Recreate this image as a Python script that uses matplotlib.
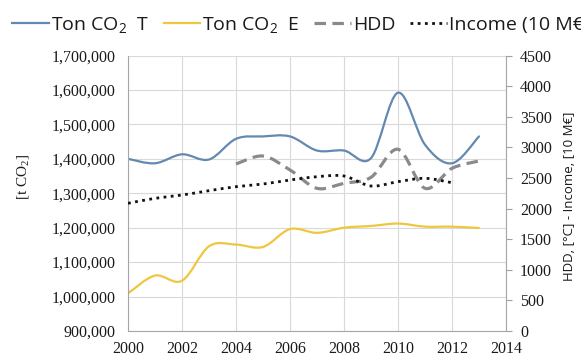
import numpy as np
import matplotlib
matplotlib.use("Agg")
import matplotlib.pyplot as plt
from matplotlib.path import Path
from matplotlib.patches import PathPatch
from matplotlib.lines import Line2D
from matplotlib.ticker import FuncFormatter

# Yearly series
years_t = list(range(2000, 2014))
ton_co2_t = [1400000, 1387000, 1413000, 1398000, 1458000, 1465000, 1465000,
             1424000, 1424000, 1402000, 1592000, 1441000, 1387000, 1465000]
ton_co2_e = [1009000, 1061000, 1046000, 1146000, 1151000, 1144000, 1196000,
             1185000, 1200000, 1205000, 1212000, 1203000, 1203000, 1199000]
years_hdd = list(range(2004, 2014))
hdd = [2728, 2858, 2630, 2331, 2412, 2510, 2968, 2331, 2657, 2777]
years_inc = list(range(2000, 2013))
income = [2086, 2167, 2221, 2292, 2357, 2401, 2466, 2520, 2532, 2368, 2439,
          2494, 2422]

x_ticks = list(range(2000, 2015, 2))
left_ticks = list(range(900000, 1700001, 100000))
right_ticks = list(range(0, 4501, 500))

label_t = r"Ton $\mathregular{CO_2}$  T"
label_e = r"Ton $\mathregular{CO_2}$  E"
label_hdd = "HDD"
label_inc = "Income (10 M€)"

C_T = "#6489b0"
C_E = "#efc73f"
C_HDD = "#8a8a8a"
C_INC = "#111111"
TXT = "#1a1a1a"

SERIF = "Liberation Serif"
plt.rcParams["font.family"] = [SERIF, "DejaVu Serif"]


def smooth_path(xs, ys):
    """Cubic Bezier path through the points (Catmull-Rom style smoothing)."""
    p = np.column_stack([xs, ys]).astype(float)
    n = len(p)
    verts = [p[0]]
    codes = [Path.MOVETO]
    for i in range(n - 1):
        p0 = p[i - 1] if i > 0 else p[i]
        p1 = p[i]
        p2 = p[i + 1]
        p3 = p[i + 2] if i + 2 < n else p[i + 1]
        c1 = p1 + (p2 - p0) / 6.0
        c2 = p2 - (p3 - p1) / 6.0
        verts += [c1, c2, p2]
        codes += [Path.CURVE4] * 3
    return Path(verts, codes)


def draw_curve(ax, xs, ys, **kw):
    patch = PathPatch(smooth_path(xs, ys), fill=False, transform=ax.transData,
                      **kw)
    ax.add_patch(patch)
    return patch


fig = plt.figure(figsize=(5.81, 3.58), dpi=100)
ax = fig.add_axes([128 / 581, 1 - 331 / 358, 378 / 581, 275.5 / 358])
ax2 = ax.twinx()

ax.set_xlim(2000, 2014)
ax.set_ylim(900000, 1700000)
ax2.set_ylim(0, 4500)

ax.set_xticks(x_ticks)
ax.set_yticks(left_ticks)
ax2.set_yticks(right_ticks)
ax.yaxis.set_major_formatter(FuncFormatter(lambda v, _: f"{int(v):,}"))

ax.grid(True, color="#d9d9d9", linewidth=0.8)
ax.set_axisbelow(True)

ax.tick_params(axis="both", length=0, labelsize=11.5, labelcolor=TXT,
               labelfontfamily=SERIF)
ax.tick_params(axis="y", pad=9)
ax.tick_params(axis="x", pad=7)
ax2.tick_params(axis="y", length=4, width=0.8, color="#a0a0a0", pad=6,
                labelsize=11.5, labelcolor=TXT, labelfontfamily=SERIF)

for a in (ax, ax2):
    a.spines["top"].set_visible(False)
ax.spines["right"].set_visible(False)
ax2.spines["left"].set_visible(False)
ax2.spines["bottom"].set_visible(False)
for s in (ax.spines["left"], ax.spines["bottom"], ax2.spines["right"]):
    s.set_color("#a6a6a6")
    s.set_linewidth(0.8)

# Series
draw_curve(ax, years_t, ton_co2_t, edgecolor=C_T, linewidth=1.6,
           capstyle="round", joinstyle="round")
draw_curve(ax, years_t, ton_co2_e, edgecolor=C_E, linewidth=1.6,
           capstyle="round", joinstyle="round")
draw_curve(ax2, years_hdd, hdd, edgecolor=C_HDD, linewidth=2.3,
           linestyle=(0, (3.6, 2.0)), capstyle="butt")
draw_curve(ax2, years_inc, income, edgecolor=C_INC, linewidth=2.0,
           linestyle=(0, (1.0, 1.6)), capstyle="butt")

ax.set_ylabel(r"[t $\mathregular{CO_2}$]", family=SERIF, fontsize=11,
              color=TXT)
ax.yaxis.set_label_coords(-0.257, 0.56)
ax2.set_ylabel("HDD, [°C] - Income, [10 M€]", family="Open Sans", fontsize=9.5,
               color=TXT, rotation=90)
ax2.yaxis.set_label_coords(1.152, 0.49)

handles = [
    Line2D([], [], color=C_T, linewidth=1.6),
    Line2D([], [], color=C_E, linewidth=1.6),
    Line2D([], [], color=C_HDD, linewidth=2.3, linestyle=(0, (3.6, 2.0))),
    Line2D([], [], color=C_INC, linewidth=2.0, linestyle=(0, (1.0, 1.6))),
]
fig.legend(handles, [label_t, label_e, label_hdd, label_inc], ncol=4,
           loc="upper left", bbox_to_anchor=(0.014, 0.97), frameon=False,
           prop=dict(family="Open Sans", size=14), handlelength=1.9,
           handletextpad=0.1, columnspacing=0.75, borderaxespad=0.0,
           borderpad=0.2, labelcolor=TXT)

fig.savefig("out.png", dpi=100)
